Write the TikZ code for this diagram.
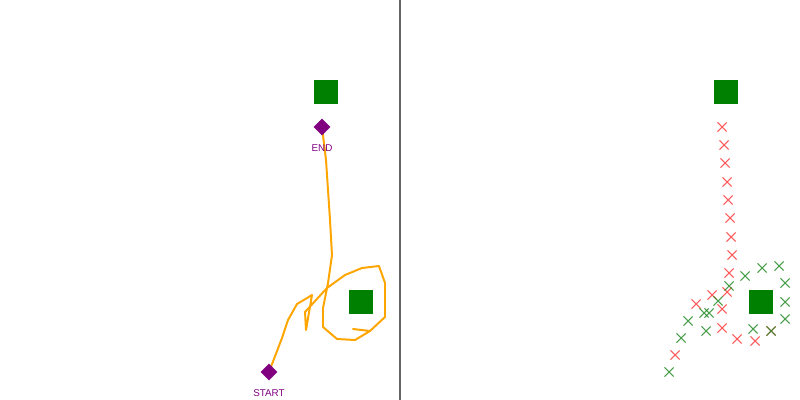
\documentclass[tikz,border=0pt]{standalone}
\usepackage{fontspec}
\setmainfont{Liberation Sans}
\usetikzlibrary{positioning,shapes.geometric,shapes.misc,backgrounds}
\definecolor{goal}{RGB}{0,128,0}
\definecolor{mark}{RGB}{128,0,128}
\definecolor{trail}{RGB}{255,165,0}
\definecolor{xred}{RGB}{255,60,60}
\definecolor{xgreen}{RGB}{40,140,40}
\tikzset{
  goalbox/.style={fill=goal, minimum size=0.6cm, inner sep=0},
  marker/.style={diamond, fill=mark, minimum size=0.42cm, inner sep=0},
  lbl/.style={text=mark, font=\fontsize{7pt}{8pt}\selectfont, inner sep=0},
  redx/.style={cross out, draw=xred, line width=0.75pt, minimum size=0.2cm, inner sep=0, opacity=0.85},
  greenx/.style={cross out, draw=xgreen, line width=0.75pt, minimum size=0.2cm, inner sep=0, opacity=0.85}
}
\begin{document}
\begin{tikzpicture}[x=0.025cm, y=-0.025cm]
\useasboundingbox (0,0) rectangle (800,400);

\coordinate (split_top) at (400,0);
\coordinate (split_bot) at (400,400);
\draw[black!60, line width=1.2pt] (split_top) -- (split_bot);

\node[goalbox] (G_1) at (326,92) {};
\node[goalbox] (G_2) at (361,302) {};
\node[goalbox] (G_3) at (726,92) {};
\node[goalbox] (G_4) at (761,302) {};

\node[marker] (S) at (269,372) {};
\node[marker] (E) at (322,127) {};
\node[lbl, below=0.22cm of S] (S_lbl) {START};
\node[lbl, below=0.22cm of E] (E_lbl) {END};

\begin{scope}[on background layer]
\draw[trail, line width=1.4pt, line join=round] (S.center) -- (282,338) -- (288,320) -- (297,304) -- (312,295)
  -- (306,330) -- (305,312) -- (327,288) -- (345,275) -- (362,268) -- (379,266) -- (385,283) -- (385,317)
  -- (370,331) -- (353,329) -- (370,331) -- (355,340) -- (337,339) -- (323,327) -- (323,308) -- (328,283)
  -- (332,255) -- (330,220) -- (326,160) -- (E.center);
\end{scope}

\foreach \px/\py [count=\i] in {722/127,724/145,725/163,727/182,728/200,730/218,731/237,732/255,729/273,
  727/292,712/295,696/304,722/309,722/328,737/339,755/341,771/331,675/355}
  \node[redx] (R_\i) at (\px,\py) {};
\foreach \px/\py [count=\i] in {762/268,779/266,745/276,729/286,785/283,785/302,785/319,718/301,704/313,
  709/313,688/321,706/331,753/329,771/331,681/338,669/372}
  \node[greenx] (V_\i) at (\px,\py) {};

\end{tikzpicture}
\end{document}
